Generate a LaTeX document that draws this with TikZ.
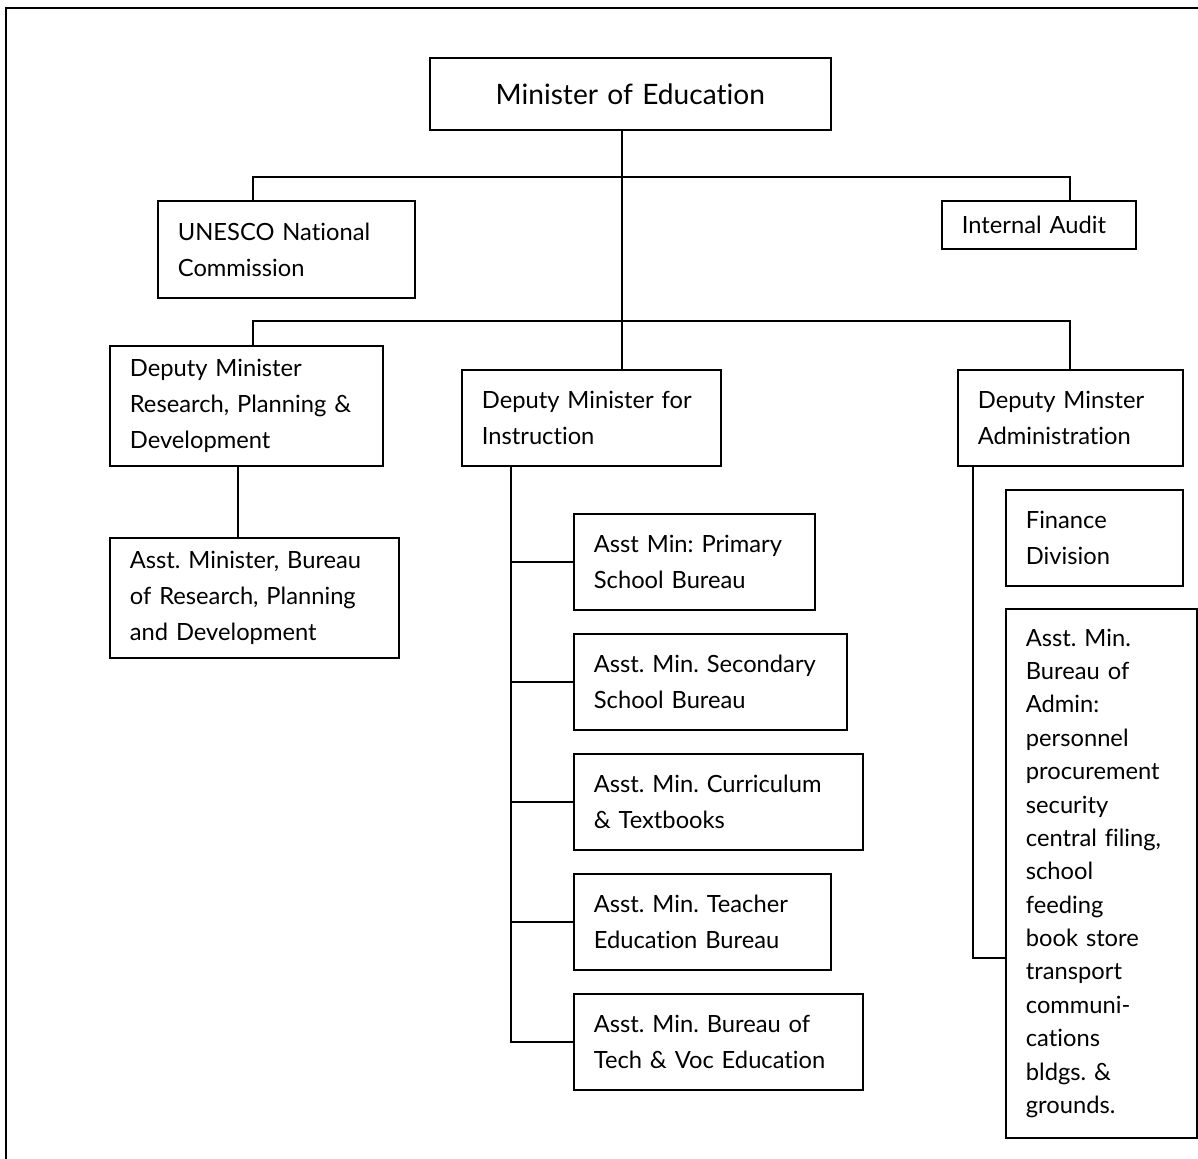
\documentclass[tikz,border=0pt]{standalone}
\usepackage{fontspec}
\setmainfont{Lato}[Ligatures=NoCommon]
\frenchspacing
\tikzset{
  box/.style={draw, line width=1pt, anchor=north west, align=left,
    inner xsep=0.4cm, text width=#1, minimum height=1.92cm},
  link/.style={line width=1pt},
}
\begin{document}
\begin{tikzpicture}[x=0.02cm, y=-0.02cm, font=\fontsize{13.5}{20.5}\selectfont]
    \useasboundingbox (0,0) rectangle (1198,1159);
    \draw[line width=1.2pt] (6,1159) |- (1198,8);

    \node[box=7.22cm, minimum height=1.44cm, align=center,
      font=\fontsize{16}{20}\selectfont] (min) at (429,57) {Minister of Education};
    \node[box=4.34cm, minimum height=1.94cm] (unesco) at (157,200) {UNESCO National\\Commission};
    \node[box=3.08cm, minimum height=0.96cm] (audit) at (941,200) {Internal Audit};

    \node[box=4.66cm, minimum height=2.4cm] (drpd) at (109,345) {Deputy Minister\\Research, Planning \&\\Development};
    \node[box=4.38cm] (dinst) at (461,369) {Deputy Minister for\\Instruction};
    \node[box=3.70cm] (dadm) at (957,369) {Deputy Minster\\Administration};

    \node[box=4.98cm, minimum height=2.4cm] (arpd) at (109,537) {Asst. Minister, Bureau\\of Research, Planning\\and Development};

    \node[box=4.02cm] (prim) at (573,513) {Asst Min: Primary\\School Bureau};
    \node[box=4.66cm] (sec) at (573,633) {Asst. Min. Secondary\\School Bureau};
    \node[box=4.98cm] (curr) at (573,753) {Asst. Min. Curriculum\\\& Textbooks};
    \node[box=4.34cm] (teach) at (573,873) {Asst. Min. Teacher\\Education Bureau};
    \node[box=4.98cm] (tech) at (573,993) {Asst. Min. Bureau of\\Tech \& Voc Education};

    \node[box=2.74cm] (fin) at (1005,489) {Finance\\Division};
    \node[box=3.02cm, minimum height=10.58cm, font=\fontsize{13.5}{19}\selectfont] (admin) at (1005,608)
      {Asst. Min.\\Bureau of\\Admin:\\personnel\\procurement\\security\\central filing,\\school\\feeding\\book store\\transport\\communi-\\cations\\bldgs. \&\\grounds.\\[0.4cm]};

    \coordinate (lx) at (253,0);
    \coordinate (rx) at (1070,0);
    \coordinate (mx) at (622,0);
    \coordinate (bus1) at (622,177);
    \coordinate (bus2) at (622,321);
    \draw[link] (min.south -| mx) -- (dinst.north -| mx);
    \draw[link] (unesco.north -| lx) |- (bus1) -| (audit.north -| rx);
    \draw[link] (drpd.north -| lx) |- (bus2) -| (dadm.north -| rx);
    \draw[link] ([xshift=2.58cm]drpd.south west) -- ([xshift=2.58cm]arpd.north west);

    \coordinate (spine) at ([xshift=1cm]dinst.south west);
    \draw[link] (spine) |- (tech.west);
    \foreach \n in {prim,sec,curr,teach}
        \draw[link] (\n.west) -- (\n.west -| spine);
    \draw[link] ([xshift=0.32cm]dadm.south west) |- ([yshift=-7cm]admin.north west);
\end{tikzpicture}
\end{document}
